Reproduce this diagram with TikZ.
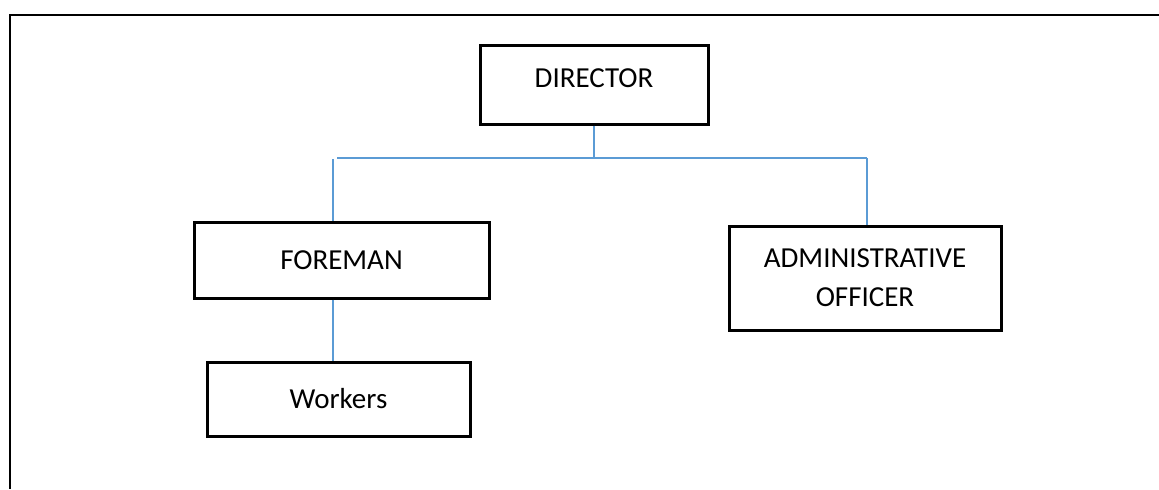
\documentclass[tikz,border=0pt]{standalone}
\usepackage{fontspec}
\setmainfont{Carlito}
\usetikzlibrary{positioning,calc}
\definecolor{linkblue}{RGB}{91,155,213}
\tikzset{
    block/.style = {draw, rectangle, line width=1.5pt,
        inner sep=0pt, align=center,
        font=\fontsize{14.5pt}{19.5pt}\selectfont},
    link/.style = {draw, linkblue, line width=0.6pt},
    frame/.style = {draw, line width=1.3pt}
}
\begin{document}
\begin{tikzpicture}[x=0.5pt,y=-0.5pt]
                \useasboundingbox (0,0) rectangle (1159,489);
                \draw [frame] (1159,15) -- (10,15) -- (10,489);
                \node[block,minimum width=114pt,minimum height=39.5pt,text depth=6pt] (dir) at (594,84.5) {DIRECTOR};
                \node[block,minimum width=147.5pt,minimum height=38pt] (fore) at (341.5,260) {FOREMAN};
                \node[block,minimum width=136pt,minimum height=52pt] (adm) at (865,278) {ADMINISTRATIVE\\OFFICER};
                \node[block,minimum width=131.5pt,minimum height=37pt] (work) at (338.5,399) {Workers};
                \coordinate (busL) at (337,158);
                \coordinate (busR) at (867,158);
                \coordinate (foreJ) at (333,159);
                \draw [link] (dir.south) -- (dir.south |- busL);
                \draw [link] (busL) -- (busR);
                \draw [link] (busR) -- (busR |- adm.north);
                \draw [link] (foreJ) -- (foreJ |- fore.north);
                \draw [link] (foreJ |- fore.south) -- (foreJ |- work.north);
            \end{tikzpicture}
\end{document}
